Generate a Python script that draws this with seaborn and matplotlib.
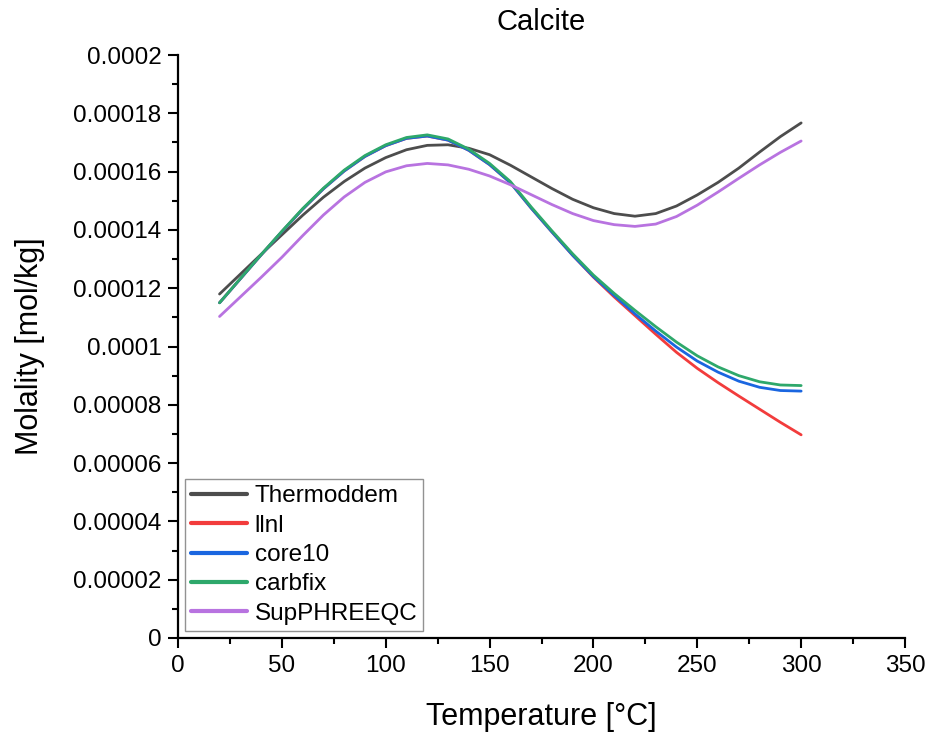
import numpy as np
import pandas as pd
import matplotlib
matplotlib.use("Agg")
import matplotlib.pyplot as plt
import seaborn as sns
from matplotlib.ticker import MultipleLocator, FuncFormatter

# ---- data (temperature in °C, molality in 1e-4 mol/kg) ----
temperature = [20, 30, 40, 50, 60, 70, 80, 90, 100, 110, 120, 130, 140, 150,
               160, 170, 180, 190, 200, 210, 220, 230, 240, 250, 260, 270,
               280, 290, 300]

thermoddem = [1.180, 1.248, 1.316, 1.383, 1.450, 1.512, 1.566, 1.612, 1.648,
              1.675, 1.690, 1.692, 1.680, 1.658, 1.622, 1.582, 1.542, 1.505,
              1.476, 1.456, 1.447, 1.456, 1.482, 1.520, 1.563, 1.612, 1.667,
              1.720, 1.767]

llnl = [1.150, 1.232, 1.314, 1.394, 1.471, 1.541, 1.602, 1.652, 1.689, 1.714,
        1.722, 1.708, 1.673, 1.624, 1.562, 1.475, 1.393, 1.313, 1.238, 1.170,
        1.106, 1.042, 0.980, 0.925, 0.876, 0.830, 0.785, 0.740, 0.697]

core10 = [1.150, 1.232, 1.314, 1.394, 1.471, 1.541, 1.602, 1.652, 1.689, 1.714,
          1.722, 1.708, 1.673, 1.624, 1.562, 1.475, 1.393, 1.313, 1.240, 1.175,
          1.112, 1.053, 0.998, 0.950, 0.912, 0.881, 0.860, 0.849, 0.847]

carbfix = [1.150, 1.233, 1.315, 1.395, 1.473, 1.543, 1.605, 1.655, 1.692, 1.717,
           1.726, 1.712, 1.677, 1.628, 1.566, 1.479, 1.397, 1.318, 1.245, 1.182,
           1.124, 1.068, 1.015, 0.968, 0.930, 0.900, 0.879, 0.868, 0.866]

supphreeqc = [1.103, 1.170, 1.237, 1.306, 1.380, 1.451, 1.513, 1.563, 1.599,
              1.620, 1.628, 1.623, 1.608, 1.585, 1.555, 1.521, 1.487, 1.456,
              1.432, 1.418, 1.412, 1.420, 1.446, 1.485, 1.530, 1.577, 1.623,
              1.666, 1.705]

series_names = ["Thermoddem", "llnl", "core10", "carbfix", "SupPHREEQC"]
series_values = [thermoddem, llnl, core10, carbfix, supphreeqc]
series_colors = ["#4d4d4d", "#f23c3c", "#1a66e0", "#2ea86b", "#b873e0"]
value_scale = 1e-4

y_ticks = [0, 0.00002, 0.00004, 0.00006, 0.00008, 0.0001, 0.00012, 0.00014,
           0.00016, 0.00018, 0.0002]

# ---- build long-form table ----
frames = []
for name, vals in zip(series_names, series_values):
    frames.append(pd.DataFrame({
        "Temperature": temperature,
        "Molality": np.array(vals) * value_scale,
        "Database": name,
    }))
df = pd.concat(frames, ignore_index=True)

sns.set_theme(style="ticks")
plt.rcParams["font.family"] = ["Liberation Sans", "DejaVu Sans"]
plt.rcParams["text.color"] = "black"
plt.rcParams["axes.labelcolor"] = "black"
plt.rcParams["xtick.color"] = "black"
plt.rcParams["ytick.color"] = "black"

fig = plt.figure(figsize=(9.29, 7.38), dpi=100)
ax = fig.add_axes([178 / 929, 1 - 638 / 738, (905 - 178) / 929, (638 - 55) / 738])

sns.lineplot(data=df, x="Temperature", y="Molality", hue="Database",
             hue_order=series_names, palette=dict(zip(series_names, series_colors)),
             linewidth=2.0, ax=ax, estimator=None, sort=True)

ax.set_xlim(0, 350)
ax.set_ylim(0, 0.0002)
ax.xaxis.set_major_locator(MultipleLocator(50))
ax.xaxis.set_minor_locator(MultipleLocator(25))
ax.set_yticks(y_ticks)
ax.yaxis.set_minor_locator(MultipleLocator(0.00001))


def yfmt(v, pos):
    s = f"{v:.5f}".rstrip("0").rstrip(".")
    return s if s else "0"


ax.yaxis.set_major_formatter(FuncFormatter(yfmt))

for side in ["top", "right"]:
    ax.spines[side].set_visible(False)
for side in ["left", "bottom"]:
    ax.spines[side].set_linewidth(1.6)
    ax.spines[side].set_color("black")

ax.tick_params(which="major", direction="out", length=7, width=1.5,
               labelsize=17.5, pad=5, colors="black", labelcolor="black")
ax.tick_params(which="minor", direction="out", length=4, width=1.5, colors="black")

ax.set_xlabel("Temperature [°C]", fontsize=22, labelpad=18, color="black")
ax.set_ylabel("Molality [mol/kg]", fontsize=22, labelpad=20, color="black")
ax.set_title("Calcite", fontsize=21, pad=18, color="black")

sns.move_legend(ax, "lower left", bbox_to_anchor=(0.0, 0.0), title=None,
                fontsize=17.5, frameon=True, fancybox=False, borderaxespad=0.3,
                handlelength=2.3, handletextpad=0.3, labelspacing=0.3,
                borderpad=0.25)
leg = ax.get_legend()
leg.get_frame().set_edgecolor("#777777")
leg.get_frame().set_linewidth(1.0)
for line in leg.get_lines():
    line.set_linewidth(3.0)
for t in leg.get_texts():
    t.set_color("black")

fig.savefig("out.png", dpi=100)
